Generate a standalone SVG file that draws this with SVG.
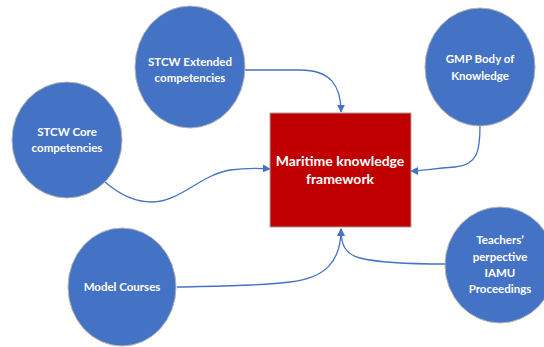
<svg xmlns="http://www.w3.org/2000/svg" width="544" height="347" viewBox="0 0 544 347">
  <style>
    .bubble { fill: #4472C4; stroke: #B4B4B4; stroke-width: 1; }
    .core { fill: #C00000; stroke: #B0A0A0; stroke-width: 1; }
    .lbl { fill: #FFFFFF; font-family: Lato, "Open Sans", "Liberation Sans", sans-serif; font-weight: bold; font-size: 11.5px; text-anchor: middle; }
    .big { font-size: 14px; }
    .link { fill: none; stroke: #4472C4; stroke-width: 1.3; marker-end: url(#tip); }
  </style>
  <defs>
    <marker id="tip" viewBox="0 0 10 10" refX="9" refY="5" markerWidth="8" markerHeight="8" markerUnits="userSpaceOnUse" orient="auto">
      <path d="M0,0 L10,5 L0,10 z" fill="#4472C4"/>
    </marker>
  </defs>
  <rect width="544" height="347" fill="#FFFFFF"/>

  <g id="connectors">
    <path class="link" d="M245,70 L300,70 C330,70 341,85 341,112"/>
    <path class="link" d="M480,126 C480,150 478,165 455,167 C430,169 420,171 411,171"/>
    <path class="link" d="M105,182 C120,195 135,202 152,202 C180,202 200,175 230,170 C245,168 258,168 270,169"/>
    <path class="link" d="M177,287 C220,286 260,286 290,282 C325,278 341,262 341,229"/>
    <path class="link" d="M445,264 C410,264 380,263 360,258 C345,254 341,245 341,229"/>
  </g>

  <g id="framework">
    <rect class="core" x="270" y="113" width="141" height="114"/>
    <text class="lbl big" x="340" y="166">Maritime knowledge</text>
    <text class="lbl big" x="340" y="184">framework</text>
  </g>

  <g id="stcw-extended">
    <ellipse class="bubble" cx="190" cy="67" rx="55" ry="61"/>
    <text class="lbl" x="190" y="66">STCW Extended</text>
    <text class="lbl" x="190" y="82">competencies</text>
  </g>

  <g id="stcw-core">
    <ellipse class="bubble" cx="67" cy="140" rx="55" ry="58"/>
    <text class="lbl" x="67" y="136">STCW Core</text>
    <text class="lbl" x="67" y="152">competencies</text>
  </g>

  <g id="gmp">
    <ellipse class="bubble" cx="480" cy="67" rx="55" ry="59"/>
    <text class="lbl" x="480" y="63">GMP Body of</text>
    <text class="lbl" x="480" y="80">Knowledge</text>
  </g>

  <g id="model-courses">
    <ellipse class="bubble" cx="122" cy="287" rx="54" ry="59"/>
    <text class="lbl" x="122" y="291">Model Courses</text>
  </g>

  <g id="teachers">
    <ellipse class="bubble" cx="500" cy="265" rx="55" ry="58"/>
    <text class="lbl" x="500" y="244">Teachers’</text>
    <text class="lbl" x="500" y="261">perpective</text>
    <text class="lbl" x="500" y="277">IAMU</text>
    <text class="lbl" x="500" y="293">Proceedings</text>
  </g>
</svg>
